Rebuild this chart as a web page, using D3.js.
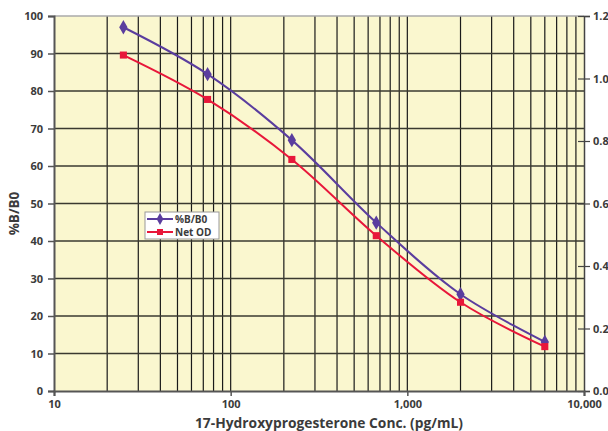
<!DOCTYPE html>
<html>
<head>
<meta charset="utf-8">
<script src="https://cdn.jsdelivr.net/npm/d3@7"></script>
<style>
  html, body { margin: 0; padding: 0; background: #fff; }
  svg text { font-family: 'Open Sans', sans-serif; font-weight: 700; fill: #3b3b3b; }
</style>
</head>
<body>
<div id="chart"></div>
<script>
// standard concentrations (pg/mL)
const concentrations = [24.7, 74, 222, 667, 2000, 6000];
const percentBB0 = [97.0, 84.5, 66.9, 44.9, 25.8, 13.1];
const netOD = [1.075, 0.933, 0.741, 0.497, 0.284, 0.142];

const leftTicks = [0, 10, 20, 30, 40, 50, 60, 70, 80, 90, 100];
const rightTicks = [0, 0.2, 0.4, 0.6, 0.8, 1.0, 1.2];
const xTicks = [10, 100, 1000, 10000];
const xTickLabels = ['10', '100', '1,000', '10,000'];

const seriesNames = ['%B/B0', 'Net OD'];

const W = 608, H = 431;
const margin = { top: 16, right: 24, bottom: 40, left: 54 };
const width = W - margin.left - margin.right;
const height = H - margin.top - margin.bottom;

const svg = d3.select('#chart').append('svg')
  .attr('width', W)
  .attr('height', H);

const g = svg.append('g')
  .attr('transform', `translate(${margin.left},${margin.top})`);

const x = d3.scaleLog().domain([10, 10000]).range([0, width]);
const y = d3.scaleLinear().domain([0, 100]).range([height, 0]);
const y2 = d3.scaleLinear().domain([0, 1.2]).range([height, 0]);

// plot background
g.append('rect')
  .attr('width', width)
  .attr('height', height)
  .attr('fill', '#faf7cf');

// vertical grid (log minor lines)
const minor = [];
for (let dec = 10; dec < 10000; dec *= 10) {
  for (let k = 2; k <= 10; k++) minor.push(dec * k);
}
g.append('g').selectAll('line')
  .data(minor.filter(d => d < 10000))
  .enter().append('line')
  .attr('x1', d => x(d)).attr('x2', d => x(d))
  .attr('y1', 0).attr('y2', height)
  .attr('stroke', '#1a1a1a')
  .attr('stroke-width', 1.2);

// horizontal grid
g.append('g').selectAll('line')
  .data(leftTicks.filter(d => d > 0 && d < 100))
  .enter().append('line')
  .attr('x1', 0).attr('x2', width)
  .attr('y1', d => y(d)).attr('y2', d => y(d))
  .attr('stroke', '#3a3a30')
  .attr('stroke-width', 1.6);

// top border
g.append('line')
  .attr('x1', 0).attr('x2', width)
  .attr('y1', 0).attr('y2', 0)
  .attr('stroke', '#aaa')
  .attr('stroke-width', 1.5);

// left axis
const yAxis = g.append('g')
  .call(d3.axisLeft(y).tickValues(leftTicks).tickSize(6).tickPadding(5));
yAxis.select('.domain').attr('stroke', '#555').attr('stroke-width', 2);
yAxis.selectAll('.tick line').attr('stroke', '#555').attr('stroke-width', 1.5);
yAxis.selectAll('text').style('font-size', '11px');

// right axis, ticks cross the line
const y2Axis = g.append('g')
  .attr('transform', `translate(${width},0)`)
  .call(d3.axisRight(y2).tickValues(rightTicks).tickFormat(d3.format('.1f')).tickSize(6).tickPadding(3));
y2Axis.select('.domain').attr('stroke', '#444').attr('stroke-width', 1.5);
y2Axis.selectAll('.tick line').attr('x1', -6).attr('stroke', '#444').attr('stroke-width', 1.2);
y2Axis.selectAll('text').style('font-size', '11px');

// bottom axis
const xAxis = g.append('g')
  .attr('transform', `translate(0,${height})`)
  .call(d3.axisBottom(x).tickValues(xTicks).tickFormat((d, i) => xTickLabels[i]).tickSize(5).tickPadding(4));
xAxis.select('.domain').attr('stroke', '#555').attr('stroke-width', 2);
xAxis.selectAll('.tick line').attr('stroke', '#555').attr('stroke-width', 1.5);
xAxis.selectAll('text').style('font-size', '11px');

// axis titles
svg.append('text')
  .attr('transform', `translate(19,${margin.top + height / 2 + 10}) rotate(-90)`)
  .attr('text-anchor', 'middle')
  .style('font-size', '13.5px')
  .text('%B/B0');

svg.append('text')
  .attr('x', 329)
  .attr('y', 428)
  .attr('text-anchor', 'middle')
  .style('font-size', '13.8px')
  .text('17-Hydroxyprogesterone Conc. (pg/mL)');

// series
const line1 = d3.line()
  .x((d, i) => x(concentrations[i]))
  .y(d => y(d))
  .curve(d3.curveCatmullRom.alpha(0.5));
const line2 = d3.line()
  .x((d, i) => x(concentrations[i]))
  .y(d => y2(d))
  .curve(d3.curveCatmullRom.alpha(0.5));

const purple = '#5a3d9e';
const red = '#e8173a';

g.append('path')
  .datum(netOD)
  .attr('d', line2)
  .attr('fill', 'none')
  .attr('stroke', red)
  .attr('stroke-width', 2);

g.append('path')
  .datum(percentBB0)
  .attr('d', line1)
  .attr('fill', 'none')
  .attr('stroke', purple)
  .attr('stroke-width', 2);

const diamond = d3.symbol().type(d3.symbolDiamond).size(60);
const square = d3.symbol().type(d3.symbolSquare).size(50);

g.selectAll('.pt1')
  .data(percentBB0)
  .enter().append('path')
  .attr('transform', (d, i) => `translate(${x(concentrations[i])},${y(d)})`)
  .attr('d', diamond)
  .attr('fill', purple);

g.selectAll('.pt2')
  .data(netOD)
  .enter().append('path')
  .attr('transform', (d, i) => `translate(${x(concentrations[i])},${y2(d)})`)
  .attr('d', square)
  .attr('fill', red);

// legend
const legend = svg.append('g').attr('transform', 'translate(145,212)');
legend.append('rect')
  .attr('width', 74).attr('height', 27)
  .attr('fill', '#fff')
  .attr('stroke', '#999')
  .attr('stroke-width', 1);

const items = [
  { name: seriesNames[0], color: purple, sym: d3.symbol().type(d3.symbolDiamond).size(40) },
  { name: seriesNames[1], color: red, sym: d3.symbol().type(d3.symbolSquare).size(36) }
];
items.forEach((it, i) => {
  const yy = 7 + i * 13;
  legend.append('line')
    .attr('x1', 2).attr('x2', 28)
    .attr('y1', yy).attr('y2', yy)
    .attr('stroke', it.color)
    .attr('stroke-width', 2);
  legend.append('path')
    .attr('transform', `translate(15,${yy})`)
    .attr('d', it.sym)
    .attr('fill', it.color);
  legend.append('text')
    .attr('x', 30).attr('y', yy + 3.5)
    .style('font-size', '10px')
    .text(it.name);
});
</script>
</body>
</html>
